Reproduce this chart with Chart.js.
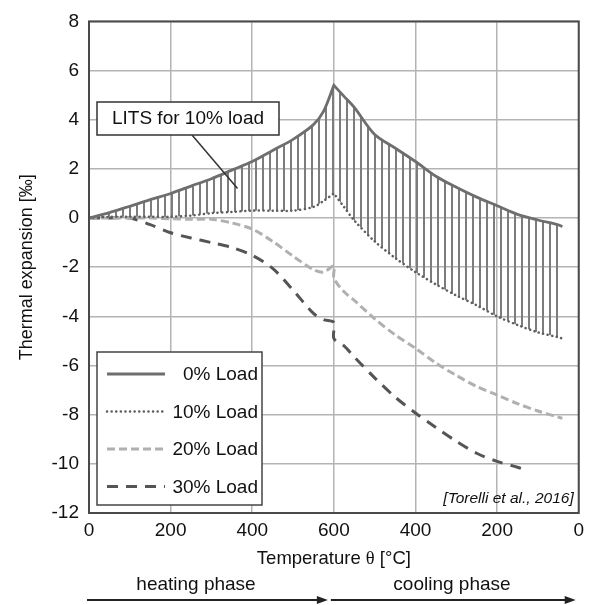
<!DOCTYPE html>
<html lang="en">
<head>
<meta charset="UTF-8">
<title>Thermal expansion - LITS</title>
<script src="https://cdn.jsdelivr.net/npm/chart.js"></script>
<style>
  body { margin: 0; background: #fff; }
  canvas { display: block; }
</style>
</head>
<body>
<canvas id="chart" width="590" height="605"></canvas>
<script>
// temperatures read along each phase (cooling runs from 600 back to 0)
const heatT = [0, 50, 100, 150, 200, 250, 300, 350, 400, 450, 500, 550, 575, 600];
const coolT = [600, 575, 550, 500, 450, 400, 350, 300, 250, 200, 150, 100, 50, 40];
const coolT30 = [600, 575, 550, 500, 450, 400, 350, 300, 250, 200, 150, 130];

const load0Heat = [0, 0.22, 0.48, 0.75, 1.0, 1.3, 1.6, 1.95, 2.3, 2.75, 3.2, 3.8, 4.35, 5.4];
const load0Cool = [5.4, 4.95, 4.5, 3.4, 2.85, 2.3, 1.7, 1.25, 0.85, 0.5, 0.15, -0.08, -0.28, -0.35];
const load10Heat = [0, 0.05, 0.05, 0.05, 0.05, 0.1, 0.2, 0.25, 0.3, 0.3, 0.3, 0.45, 0.7, 1.0];
const load10Cool = [1.0, 0.45, -0.1, -0.95, -1.62, -2.2, -2.7, -3.15, -3.55, -4.0, -4.35, -4.65, -4.85, -4.9];
const load20Heat = [0, 0, 0, 0, -0.03, -0.05, -0.05, -0.2, -0.45, -0.95, -1.55, -2.1, -2.2, -1.95];
const load20Cool = [-2.45, -3.0, -3.35, -4.1, -4.75, -5.3, -5.9, -6.4, -6.85, -7.2, -7.55, -7.85, -8.1, -8.15];
const load30Heat = [0, 0, 0, -0.27, -0.6, -0.81, -1.0, -1.2, -1.52, -2.05, -2.93, -3.88, -4.13, -4.25];
const load30Cool = [-4.9, -5.2, -5.65, -6.5, -7.28, -7.93, -8.52, -9.08, -9.57, -9.9, -10.14, -10.25];

const seriesNames = ['0% Load', '10% Load', '20% Load', '30% Load'];
const xTicks = [0, 200, 400, 600, 400, 200, 0];
const yTicks = [8, 6, 4, 2, 0, -2, -4, -6, -8, -10, -12];

// heating phase on 0..600, cooling phase on 600..1200 of the process axis
function path(hT, hV, cT, cV) {
  const pts = hT.map((t, i) => ({ x: t, y: hV[i] }));
  return pts.concat(cT.map((t, i) => ({ x: 1200 - t, y: cV[i] })));
}

const F = '"Liberation Sans", Arial, sans-serif';

// vertical hatching for the LITS area
const pc = document.createElement('canvas');
pc.width = 7; pc.height = 7;
const pctx = pc.getContext('2d');
pctx.fillStyle = '#7c7c7c';
pctx.fillRect(3, 0, 2, 7);
const hatch = document.getElementById('chart').getContext('2d').createPattern(pc, 'repeat');

const decor = {
  id: 'decor',
  afterDraw(chart) {
    const { ctx, chartArea: a, scales: { x, y } } = chart;
    ctx.save();

    // plot frame
    ctx.strokeStyle = '#4a4a4a';
    ctx.lineWidth = 2;
    ctx.strokeRect(a.left, a.top, a.right - a.left, a.bottom - a.top);

    // LITS callout
    ctx.strokeStyle = '#333';
    ctx.lineWidth = 1.5;
    ctx.beginPath();
    ctx.moveTo(192, 135);
    ctx.lineTo(x.getPixelForValue(364), y.getPixelForValue(1.2));
    ctx.stroke();
    ctx.fillStyle = '#fff';
    ctx.fillRect(97, 102, 182, 33);
    ctx.strokeRect(97, 102, 182, 33);
    ctx.fillStyle = '#111';
    ctx.font = '19px ' + F;
    ctx.textAlign = 'center';
    ctx.textBaseline = 'middle';
    ctx.fillText('LITS for 10% load', 188, 119);

    // legend
    const lx = a.left + 8, ly = 352, lw = 165, lh = 153;
    ctx.fillStyle = '#fff';
    ctx.fillRect(lx, ly, lw, lh);
    ctx.strokeStyle = '#444';
    ctx.lineWidth = 1.5;
    ctx.strokeRect(lx, ly, lw, lh);
    chart.data.datasets.forEach((ds, i) => {
      const ry = ly + 22 + i * 37.5;
      ctx.save();
      ctx.strokeStyle = ds.borderColor;
      ctx.lineWidth = ds.borderWidth;
      ctx.lineCap = ds.borderCapStyle || 'butt';
      ctx.setLineDash(ds.borderDash || []);
      ctx.beginPath();
      ctx.moveTo(lx + 10, ry);
      ctx.lineTo(lx + 68, ry);
      ctx.stroke();
      ctx.restore();
      ctx.fillStyle = '#111';
      ctx.font = '19px ' + F;
      ctx.textAlign = 'right';
      ctx.textBaseline = 'middle';
      ctx.fillText(ds.label, lx + lw - 4, ry + 1);
    });

    // source
    ctx.font = 'italic 15.5px ' + F;
    ctx.textAlign = 'right';
    ctx.textBaseline = 'alphabetic';
    ctx.fillStyle = '#111';
    ctx.fillText('[Torelli et al., 2016]', a.right - 5, a.bottom - 10);

    // axis titles
    ctx.save();
    ctx.translate(27, (a.top + a.bottom) / 2);
    ctx.rotate(-Math.PI / 2);
    ctx.font = '18px ' + F;
    ctx.textAlign = 'center';
    ctx.textBaseline = 'middle';
    ctx.fillText('Thermal expansion [‰]', 0, 0);
    ctx.restore();

    const p1 = 'Temperature ', p2 = '\u03b8', p3 = ' [°C]';
    const sans = '18.5px ' + F, serif = '18.5px "Liberation Serif", serif';
    ctx.font = sans;
    const w1 = ctx.measureText(p1).width, w3 = ctx.measureText(p3).width;
    ctx.font = serif;
    const w2 = ctx.measureText(p2).width;
    let tx = (a.left + a.right) / 2 - (w1 + w2 + w3) / 2;
    ctx.textAlign = 'left';
    ctx.textBaseline = 'middle';
    ctx.font = sans; ctx.fillText(p1, tx, 559); tx += w1;
    ctx.font = serif; ctx.fillText(p2, tx, 559); tx += w2;
    ctx.font = sans; ctx.fillText(p3, tx, 559);

    // phase labels and arrows
    ctx.font = '19px ' + F;
    ctx.textAlign = 'center';
    ctx.fillText('heating phase', 196, 585);
    ctx.fillText('cooling phase', 452, 585);
    const arrow = (x0, x1, yy) => {
      ctx.strokeStyle = '#222';
      ctx.fillStyle = '#222';
      ctx.lineWidth = 2;
      ctx.beginPath();
      ctx.moveTo(x0, yy);
      ctx.lineTo(x1 - 8, yy);
      ctx.stroke();
      ctx.beginPath();
      ctx.moveTo(x1, yy);
      ctx.lineTo(x1 - 11, yy - 4);
      ctx.lineTo(x1 - 11, yy + 4);
      ctx.closePath();
      ctx.fill();
    };
    arrow(87, x.getPixelForValue(600) - 6, 600);
    arrow(x.getPixelForValue(600) - 3, a.right - 3, 600);

    ctx.restore();
  }
};

new Chart(document.getElementById('chart'), {
  type: 'line',
  data: {
    datasets: [
      {
        label: seriesNames[0],
        data: path(heatT, load0Heat, coolT, load0Cool),
        borderColor: '#6e6e6e',
        borderWidth: 2.8,
        fill: false
      },
      {
        label: seriesNames[1],
        data: path(heatT, load10Heat, coolT, load10Cool),
        borderColor: '#5e5e5e',
        borderWidth: 2.5,
        borderDash: [0.1, 4.5],
        borderCapStyle: 'round',
        backgroundColor: hatch,
        fill: '-1'
      },
      {
        label: seriesNames[2],
        data: path(heatT, load20Heat, coolT, load20Cool),
        borderColor: '#b0b0b0',
        borderWidth: 3,
        borderDash: [8, 4],
        fill: false
      },
      {
        label: seriesNames[3],
        data: path(heatT, load30Heat, coolT30, load30Cool),
        borderColor: '#555555',
        borderWidth: 3,
        borderDash: [11, 8],
        fill: false
      }
    ]
  },
  options: {
    responsive: false,
    animation: false,
    devicePixelRatio: 1,
    layout: { padding: { top: 14, right: 10, left: 0, bottom: 0 } },
    elements: { point: { radius: 0 }, line: { tension: 0.3 } },
    plugins: { legend: { display: false }, tooltip: { enabled: false } },
    scales: {
      x: {
        type: 'linear',
        min: 0,
        max: 1200,
        afterFit: s => { s.height = 92; },
        afterBuildTicks: s => { s.ticks = xTicks.map((t, i) => ({ value: i * 200 })); },
        grid: { color: '#b4b4b4', lineWidth: 1.5, drawTicks: false },
        border: { display: false },
        ticks: {
          padding: 6,
          color: '#111',
          font: { family: F, size: 19 },
          maxRotation: 0,
          callback: (v, i) => xTicks[i]
        }
      },
      y: {
        min: -12,
        max: 8,
        afterFit: s => { s.width = 89; },
        afterBuildTicks: s => { s.ticks = yTicks.map(v => ({ value: v })); },
        grid: { color: '#b4b4b4', lineWidth: 1.5, drawTicks: false },
        border: { display: false },
        ticks: {
          padding: 10,
          color: '#111',
          font: { family: F, size: 19 }
        }
      }
    }
  },
  plugins: [decor]
});
</script>
</body>
</html>
